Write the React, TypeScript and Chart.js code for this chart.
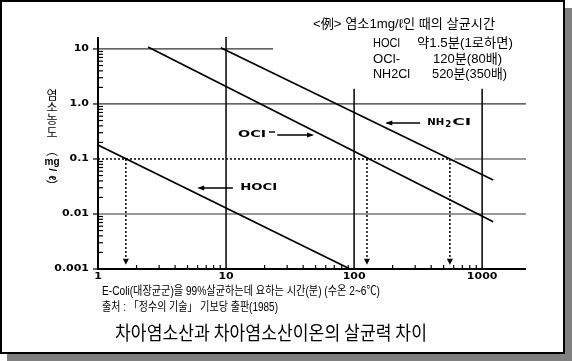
import React, { useEffect, useRef } from 'react';
import { Chart, registerables } from 'chart.js';

Chart.register(...registerables);

// ---- data ----
const X_RANGE = [1, 2200];
const Y_RANGE = [0.001, 16.5];
const X_TICKS = [1, 10, 100, 1000];
const X_TICK_LABELS = ['1', '10', '100', '1000'];
const Y_TICKS = [0.001, 0.01, 0.1, 1, 10];
const Y_TICK_LABELS = ['0.001', '0.01', '0.1', '1.0', '10'];

const HOCL_X = [1, 93];
const HOCL_Y = [0.18, 0.001];
const OCL_X = [2.46, 1220];
const OCL_Y = [10.9, 0.0072];
const NH2CL_X = [9.1, 1220];
const NH2CL_Y = [10.5, 0.0415];

const KILL_LEVEL = 0.1;
const KILL_TIMES = [1.65, 126, 560];
const DROP_LINE_END = 0.0015;
const DROP_TIP = 0.0012;

const SANS = "'Liberation Sans', 'Noto Sans CJK KR', sans-serif";
const KR = "'Noto Sans CJK KR', sans-serif";
const BOLD = "bold 9px 'DejaVu Sans', sans-serif";

function fitText(ctx: CanvasRenderingContext2D, text: string, x: number, y: number, width: number, font: string) {
  ctx.save();
  ctx.font = font;
  ctx.textBaseline = 'middle';
  ctx.textAlign = 'left';
  const w = ctx.measureText(text).width;
  ctx.translate(x, y);
  ctx.scale(width / w, 1);
  ctx.fillText(text, 0, 0);
  ctx.restore();
}

function scaledText(ctx: CanvasRenderingContext2D, text: string, x: number, y: number, font: string, sx: number, align: 'left' | 'right' | 'center') {
  ctx.save();
  ctx.font = font;
  ctx.textBaseline = 'middle';
  ctx.textAlign = 'left';
  const w = ctx.measureText(text).width * sx;
  const left = align === 'left' ? x : align === 'right' ? x - w : x - w / 2;
  ctx.translate(left, y);
  ctx.scale(sx, 1);
  ctx.fillText(text, 0, 0);
  ctx.restore();
}

function line(ctx: CanvasRenderingContext2D, x0: number, y0: number, x1: number, y1: number) {
  ctx.beginPath();
  ctx.moveTo(x0, y0);
  ctx.lineTo(x1, y1);
  ctx.stroke();
}

function arrowHead(ctx: CanvasRenderingContext2D, tx: number, ty: number, dx: number, dy: number, len: number, half: number) {
  ctx.beginPath();
  ctx.moveTo(tx, ty);
  ctx.lineTo(tx - dx * len - dy * half, ty - dy * len + dx * half);
  ctx.lineTo(tx - dx * len + dy * half, ty - dy * len - dx * half);
  ctx.closePath();
  ctx.fill();
}

const decor = {
  id: 'decor',
  beforeDraw(chart: any) {
    const ctx = chart.ctx as CanvasRenderingContext2D;
    ctx.save();
    ctx.fillStyle = '#fff';
    ctx.fillRect(0, 0, chart.width, chart.height);
    ctx.fillStyle = '#808080';
    ctx.fillRect(565, 8, 7, 353);
    ctx.fillRect(7, 354, 565, 7);
    ctx.strokeStyle = '#000';
    ctx.lineWidth = 2;
    ctx.strokeRect(1, 1, 563, 352);
    ctx.restore();
  },
  beforeDatasetsDraw(chart: any) {
    const ctx = chart.ctx as CanvasRenderingContext2D;
    const xs = chart.scales.x;
    const ys = chart.scales.y;
    const a = chart.chartArea;
    const X = (v: number) => xs.getPixelForValue(v);
    const Y = (v: number) => ys.getPixelForValue(v);
    ctx.save();
    // grid lines
    ctx.strokeStyle = '#333';
    ctx.lineWidth = 1.2;
    line(ctx, a.left, Y(10), X(23.3), Y(10));
    line(ctx, a.left, Y(1), a.right, Y(1));
    line(ctx, a.left, Y(0.01), a.right, Y(0.01));
    line(ctx, X(608), Y(0.1), a.right, Y(0.1));
    ctx.lineWidth = 1.6;
    ctx.strokeStyle = '#111';
    line(ctx, X(10), a.top, X(10), a.bottom);
    line(ctx, X(100), Y(1.9), X(100), a.bottom);
    line(ctx, X(1000), Y(1.9), X(1000), a.bottom);
    // axes
    ctx.strokeStyle = '#000';
    ctx.lineWidth = 2;
    line(ctx, a.left, a.top, a.left, a.bottom + 1);
    line(ctx, a.left - 1, a.bottom, a.right, a.bottom);
    // y ticks
    ctx.lineWidth = 1.2;
    for (let d = -3; d <= 1; d++) {
      for (let k = 2; k <= 9; k++) {
        const v = k * Math.pow(10, d);
        if (v > Y_RANGE[1]) continue;
        line(ctx, a.left, Y(v), a.left + 5, Y(v));
      }
    }
    for (const t of Y_TICKS) line(ctx, a.left - 5, Y(t), a.left, Y(t));
    // x ticks
    for (let d = 0; d <= 2; d++) {
      for (let k = 2; k <= 9; k++) {
        const v = k * Math.pow(10, d);
        line(ctx, X(v), a.bottom, X(v), a.bottom - 4);
      }
    }
    // tick labels
    ctx.fillStyle = '#000';
    Y_TICKS.forEach((t, i) => scaledText(ctx, Y_TICK_LABELS[i], a.left - 9, Y(t), BOLD, 1.22, 'right'));
    X_TICKS.forEach((t, i) => scaledText(ctx, X_TICK_LABELS[i], X(t), a.bottom + 8, BOLD, 1.22, 'center'));
    ctx.restore();
  },
  afterDatasetsDraw(chart: any) {
    const ctx = chart.ctx as CanvasRenderingContext2D;
    const xs = chart.scales.x;
    const ys = chart.scales.y;
    const X = (v: number) => xs.getPixelForValue(v);
    const Y = (v: number) => ys.getPixelForValue(v);
    ctx.save();
    ctx.fillStyle = '#000';
    ctx.strokeStyle = '#000';
    // drop arrowheads
    for (const t of KILL_TIMES) arrowHead(ctx, X(t), Y(DROP_TIP), 0, 1, 6, 3);
    // series labels with arrows
    ctx.lineWidth = 1.4;
    // OCl-
    line(ctx, X(25.1), Y(0.273), X(47), Y(0.273));
    arrowHead(ctx, X(48.7), Y(0.273), 1, 0, 7, 2.5);
    fitText(ctx, 'OCI', X(12.4), Y(0.273), 28, BOLD);
    line(ctx, 269, Y(0.273) - 3, 275, Y(0.273) - 3);
    // NH2Cl
    line(ctx, X(180), Y(0.452), X(328), Y(0.452));
    arrowHead(ctx, X(175), Y(0.452), -1, 0, 7, 2.5);
    fitText(ctx, 'NH', X(372), Y(0.452), 17, BOLD);
    fitText(ctx, '2', X(372) + 18, Y(0.452) + 1.5, 6, "bold 8px 'DejaVu Sans', sans-serif");
    fitText(ctx, 'CI', X(372) + 25, Y(0.452), 19, BOLD);
    // HOCl
    line(ctx, X(6.2), Y(0.0297), X(11.3), Y(0.0297));
    arrowHead(ctx, X(5.95), Y(0.0297), -1, 0, 7, 2.5);
    fitText(ctx, 'HOCI', X(12.9), Y(0.0297), 37, BOLD);

    // y-axis title (vertical)
    const vt: [string, number, boolean][] = [
      ['염', 95, false], ['소', 107, false], ['농', 119, false], ['도', 132, false],
      ['︵', 150, false], ['mg', 162, false], ['/', 170, true], ['ℓ', 178, true], ['︶', 186, false],
    ];
    ctx.textAlign = 'center';
    ctx.textBaseline = 'middle';
    for (const [ch, y, rot] of vt) {
      ctx.save();
      ctx.translate(52, y);
      if (rot) ctx.rotate(Math.PI / 2);
      ctx.font = ch === 'mg' || ch === '/' || ch === 'ℓ' ? `bold 10px ${SANS}` : `12px ${KR}`;
      ctx.fillText(ch, 0, 0);
      ctx.restore();
    }

    // info box
    const f13 = `13px ${SANS}`;
    fitText(ctx, '<例> 염소1mg/ℓ인 때의 살균시간', 313, 24, 182, f13);
    fitText(ctx, 'HOCl', 373, 43, 27, f13);
    fitText(ctx, '약1.5분(1로하면)', 417, 43, 96, f13);
    fitText(ctx, 'OCl-', 373, 59, 27, f13);
    fitText(ctx, '120분(80배)', 433, 59, 69, f13);
    fitText(ctx, 'NH2Cl', 373, 74, 37, f13);
    fitText(ctx, '520분(350배)', 432, 74, 75, f13);

    // captions
    fitText(ctx, 'E-Coli(대장균군)을 99%살균하는데 요하는 시간(분) (수온 2~6℃)', 102, 292, 278, `12px ${SANS}`);
    fitText(ctx, '출처 : 「정수의 기술」 기보당 출판(1985)', 102, 308, 176, `12px ${SANS}`);
    fitText(ctx, '차아염소산과 차아염소산이온의 살균력 차이', 115, 333, 312, `19px ${KR}`);
    ctx.restore();
  },
};

const pts = (xs: number[], ys: number[]) => xs.map((x, i) => ({ x, y: ys[i] }));

export default function App() {
  const ref = useRef<HTMLCanvasElement>(null);
  useEffect(() => {
    const solid = { showLine: true, pointRadius: 0, borderColor: '#000', borderWidth: 1.7, fill: false };
    const dotted = { showLine: true, pointRadius: 0, borderColor: '#000', borderWidth: 1.5, borderDash: [2, 2], fill: false };
    const datasets: any[] = [
      { label: 'HOCl', data: pts(HOCL_X, HOCL_Y), ...solid },
      { label: 'OCl-', data: pts(OCL_X, OCL_Y), ...solid },
      { label: 'NH2Cl', data: pts(NH2CL_X, NH2CL_Y), ...solid },
      { label: 'level', data: [{ x: X_RANGE[0], y: KILL_LEVEL }, { x: KILL_TIMES[2], y: KILL_LEVEL }], ...dotted },
      ...KILL_TIMES.map((t) => ({ label: 'drop', data: [{ x: t, y: KILL_LEVEL }, { x: t, y: DROP_LINE_END }], ...dotted })),
    ];
    const chart = new Chart(ref.current!, {
      type: 'scatter',
      data: { datasets },
      options: {
        responsive: false,
        animation: false,
        layout: { padding: { left: 98, right: 46, top: 37, bottom: 92 } },
        plugins: { legend: { display: false }, tooltip: { enabled: false } },
        scales: {
          x: { type: 'logarithmic', min: X_RANGE[0], max: X_RANGE[1], display: false },
          y: { type: 'logarithmic', min: Y_RANGE[0], max: Y_RANGE[1], display: false },
        },
      },
      plugins: [decor],
    } as any);
    return () => chart.destroy();
  }, []);
  return (
    <div style={{ position: 'fixed', left: 0, top: 0, width: 572, height: 361 }}>
      <canvas ref={ref} width={572} height={361} style={{ display: 'block' }} />
    </div>
  );
}
